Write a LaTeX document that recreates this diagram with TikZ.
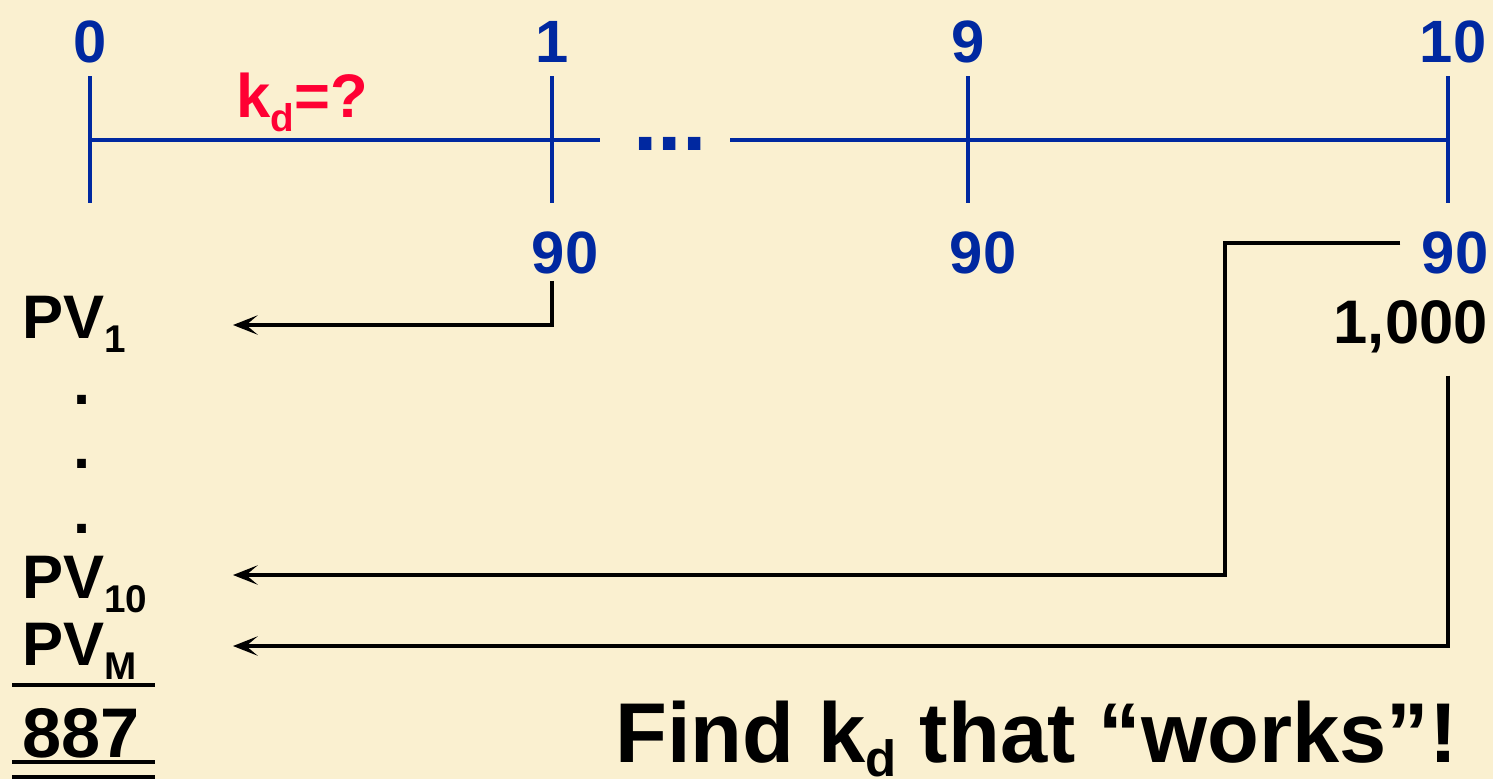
\documentclass[tikz,border=0pt]{standalone}
\usepackage{fontspec}
\setmainfont{Liberation Sans}
\usetikzlibrary{arrows.meta, positioning}

\definecolor{paper}{RGB}{250,240,208}
\definecolor{lineblue}{RGB}{0,40,160}
\definecolor{askred}{RGB}{255,0,51}

\newcommand{\lowsub}[2][22]{\raisebox{-8.5pt}{\fontsize{#1}{#1}\selectfont #2}}

\begin{document}
\begin{tikzpicture}[
    x=0.02cm, y=-0.02cm,
    axis/.style={draw=lineblue, line width=2.3pt},
    toplab/.style={inner sep=0pt, anchor=base, text=lineblue,
                   font=\fontsize{34}{34}\selectfont\bfseries},
    val/.style={inner sep=0pt, font=\fontsize{35}{35}\selectfont\bfseries},
    conn/.style={draw=black, line width=1.8pt,
                 -{Stealth[length=14pt, width=11pt, inset=6.5pt]}},
    rule/.style={draw=black, line width=2.3pt}
]
    \fill[paper] (0,0) rectangle (1493,779);
    \useasboundingbox (0,0) rectangle (1493,779);

    % time line
    \coordinate (k0) at (90,140);
    \coordinate (k1) at (552,140);
    \coordinate (k9) at (968,140);
    \coordinate (k10) at (1448,140);
    \coordinate (gapl) at (600,140);
    \coordinate (gapr) at (730,140);

    \draw[axis] (k0) -- (gapl);
    \draw[axis] (gapr) -- (k10);
    \foreach \k in {k0,k1,k9,k10}
        \draw[axis] (\k) ++(0,-64) -- ++(0,127);
    \node[toplab, font=\fontsize{50}{50}\selectfont\bfseries] (gap) at (670,150) {...};

    \node[toplab] (t0) at (90,62) {0};
    \node[toplab] (t1) at (552,62) {1};
    \node[toplab] (t9) at (968,62) {9};
    \node[toplab] (t10) at (1453,62) {10};
    \node[val, text=askred, anchor=base west] (kd) at (236,117) {k\lowsub{d}=?};

    % cash flows
    \node[toplab] (b1) at (565,273) {90};
    \node[toplab] (b9) at (983,273) {90};
    \node[toplab] (b10) at (1455,273) {90};
    \node[val, anchor=base east] (thou) at (1488,343) {1,000};

    % present values
    \node[val, anchor=base west] (pv1) at (22,338) {PV\lowsub{1}};
    \foreach \y [count=\i] in {404,468,533}
        \node[val, anchor=base] (dot\i) at (82,\y) {.};
    \node[val, anchor=base west] (pv10) at (22,598) {PV\lowsub{10}};
    \node[val, anchor=base west] (pvm) at (22,665) {PV\lowsub{M}};
    \node[val, anchor=base west, font=\fontsize{40}{40}\selectfont\bfseries] (sum) at (22,757) {887};
    \draw[rule] (12,685) -- (155,685);
    \draw[rule] (12,762) -- (155,762);
    \draw[rule] (12,777) -- (155,777);

    \node[val, anchor=base west, font=\fontsize{48.3}{48.3}\selectfont\bfseries] (find) at (615,762)
        {Find k\lowsub[29]{d} that “works”!};

    % discounting arrows
    \coordinate (e1) at (233,325);
    \coordinate (e10) at (233,575);
    \coordinate (em) at (233,646);
    \coordinate (bend) at (1225,243);
    \draw[conn] ([yshift=-4pt]b1.south -| k1) |- (e1);
    \draw[conn] ([xshift=-12pt]b10.west |- bend) -- (bend) |- (e10);
    \draw[conn] ([yshift=-13pt]thou.south -| k10) |- (em);
\end{tikzpicture}
\end{document}
